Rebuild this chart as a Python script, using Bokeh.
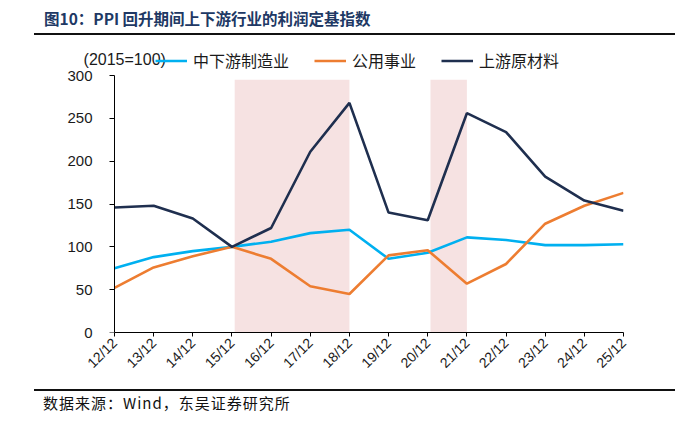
import numpy as np
from bokeh.plotting import figure
from bokeh.models import Div, Legend, LegendItem, FixedTicker, Label, LinearAxis
from bokeh.layouts import column
from bokeh.embed import file_html
from bokeh.resources import INLINE

# ---------------- data ----------------
periods = ["12/12", "13/12", "14/12", "15/12", "16/12", "17/12", "18/12",
           "19/12", "20/12", "21/12", "22/12", "23/12", "24/12", "25/12"]
midstream = [75, 88, 95, 100, 106, 116, 120, 86, 93, 111, 108, 102, 102, 103]
utilities = [52, 76, 89, 100, 86, 54, 45, 90, 96, 57, 80, 127, 148, 163]
upstream = [146, 148, 133, 100, 122, 211, 268, 140, 131, 256, 234, 182, 154, 142]
shade_starts = ["15/12", "20/12"]
shade_ends = ["18/12", "21/12"]
y_ticks = [0, 50, 100, 150, 200, 250, 300]

series_names = ["中下游制造业", "公用事业", "上游原材料"]
series_colors = ["#00B0F0", "#ED7D31", "#1F2F4F"]

CJK = "Noto Sans CJK SC"
LAT = "Liberation Sans"

x_idx = list(range(len(periods)))
y_top = y_ticks[-1]

# ---------------- title / footer ----------------
title_div = Div(
    width=675, height=36, margin=0,
    text=(
        '<div style="position:relative;width:675px;height:36px;">'
        '<div style="position:absolute;left:44px;top:7px;white-space:nowrap;'
        f'font-family:\'{CJK}\';font-weight:bold;font-size:15.5px;color:#203864;">'
        '图10：PPI 回升期间上下游行业的利润定基指数</div>'
        '<div style="position:absolute;left:34px;top:33px;width:641px;height:2px;background:#111;"></div>'
        '</div>'
    ),
)

footer_div = Div(
    width=675, height=40, margin=0,
    text=(
        '<div style="position:relative;width:675px;height:40px;">'
        '<div style="position:absolute;left:34px;top:9px;width:641px;height:2px;background:#111;"></div>'
        '<div style="position:absolute;left:43px;top:12px;white-space:nowrap;letter-spacing:1px;'
        f'font-family:\'{CJK}\';font-size:15px;color:#111;">'
        '数据来源：Wind，东吴证券研究所</div>'
        '</div>'
    ),
)

# ---------------- chart ----------------
# the frame reaches a little left of / above the axes so the unit note and the
# legend (which sit outside the axes box) are not clipped
x_start = -1.3025
y_end = 332.7
p = figure(width=675, height=344, x_range=(x_start, len(periods) - 1), y_range=(0, y_end),
           output_backend="svg", toolbar_location=None,
           min_border_left=63, min_border_right=52, min_border_top=11, min_border_bottom=48)
p.outline_line_color = None
p.xgrid.grid_line_color = None
p.ygrid.grid_line_color = None
p.background_fill_color = "white"
p.border_fill_color = "white"

# shaded periods
lefts = [periods.index(s) + 0.07 for s in shade_starts]
rights = [periods.index(e) for e in shade_ends]
p.quad(left=lefts, right=rights, bottom=[0] * len(lefts), top=[295] * len(lefts),
       fill_color="#F6E2E2", line_color=None)

renderers = []
for vals, col in zip([midstream, utilities, upstream], series_colors):
    r = p.line(x_idx, vals, line_color=col, line_width=2.6)
    renderers.append(r)

# x axis
p.xaxis.bounds = (x_idx[0], x_idx[-1])
p.xaxis.ticker = FixedTicker(ticks=x_idx)
p.xaxis.major_label_overrides = {i: lab for i, lab in enumerate(periods)}
p.xaxis.major_label_orientation = np.pi / 4
p.xaxis.major_label_text_font = LAT
p.xaxis.major_label_text_font_size = "14px"
p.xaxis.major_label_text_color = "#1a1a1a"
p.xaxis.major_label_standoff = 4
p.xaxis.major_tick_out = 4
p.xaxis.major_tick_in = 0
p.xaxis.minor_tick_line_color = None
p.xaxis.axis_line_color = "#000"
p.xaxis.major_tick_line_color = "#000"

# y axis labels (side panel, shifted right onto the value axis position)
ylab = p.yaxis[0]
ylab.ticker = FixedTicker(ticks=y_ticks)
ylab.axis_line_color = None
ylab.major_tick_line_color = None
ylab.minor_tick_line_color = None
ylab.major_tick_out = 0
ylab.major_tick_in = 0
ylab.major_label_standoff = -29
ylab.major_label_text_font = LAT
ylab.major_label_text_font_size = "15px"
ylab.major_label_text_color = "#1a1a1a"

# y axis line + ticks at x = first period
yline = LinearAxis(fixed_location=x_idx[0], bounds=(0, y_top),
                   ticker=FixedTicker(ticks=y_ticks),
                   major_label_overrides={t: "" for t in y_ticks},
                   major_tick_out=5, major_tick_in=0,
                   minor_tick_line_color=None,
                   axis_line_color="#000", major_tick_line_color="#000")
p.add_layout(yline, "left")

# unit note
p.add_layout(Label(x=-0.79, y=318.7, text="(2015=100)", text_font=LAT,
                   text_font_size="16px", text_color="#1a1a1a", text_baseline="middle"))

legend = Legend(
    items=[LegendItem(label=n, renderers=[r]) for n, r in zip(series_names, renderers)],
    location=(92, 260), orientation="horizontal",
    border_line_color=None, background_fill_alpha=0,
    padding=0, margin=0, spacing=25,
    glyph_width=32, glyph_height=23, label_height=23, label_standoff=6,
    label_text_font=CJK, label_text_font_size="16px", label_text_color="#1a1a1a",
)
p.add_layout(legend)

layout = column(title_div, p, footer_div, spacing=0)
open("out.html", "w").write(file_html(layout, INLINE))
